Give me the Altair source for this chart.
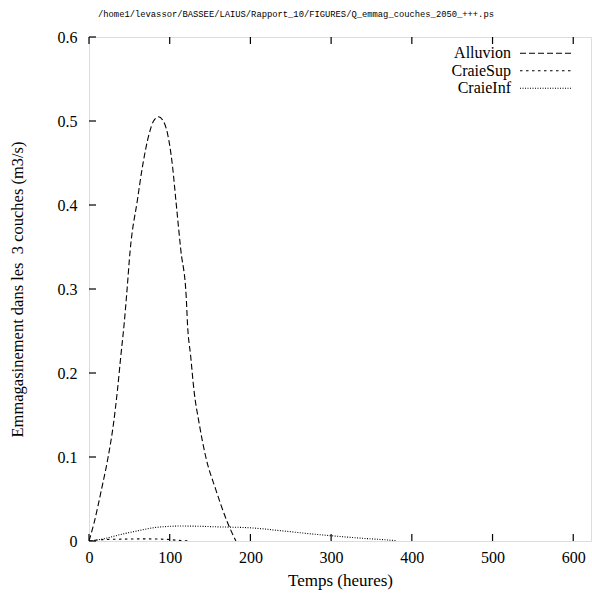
import altair as alt
import pandas as pd

# ---- data ----
alluvion_t = [0, 6.4, 15.5, 23.7, 30.4, 35.3, 39.4, 43.6, 46.8, 51, 60, 66.3, 74.6, 80, 86, 92, 97.3, 103.5,
              107.6, 113.8, 120.5, 122, 126, 130, 136.5, 144.7, 157, 171.6, 182]
alluvion_v = [0, 0.022, 0.0615, 0.1, 0.14, 0.18, 0.22, 0.259, 0.295, 0.346, 0.406, 0.446, 0.485, 0.500, 0.505,
              0.500, 0.485, 0.446, 0.406, 0.346, 0.29, 0.259, 0.22, 0.18, 0.14, 0.1, 0.0615, 0.022, 0]
craiesup_t = [0, 15, 40, 70, 95, 110, 125]
craiesup_v = [0, 0.0015, 0.0022, 0.0025, 0.002, 0.0008, 0]
craieinf_t = [0, 20, 39, 60, 81, 101, 113, 135, 160, 196, 215, 235, 255, 275, 300, 335, 366, 380]
craieinf_v = [0, 0.003, 0.0077, 0.012, 0.0159, 0.0175, 0.0178, 0.0176, 0.0168, 0.0159, 0.0145, 0.0125, 0.0105,
              0.0085, 0.0063, 0.0035, 0.0015, 0.0005]

series_names = ["Alluvion", "CraieSup", "CraieInf"]
series_dash = [[6, 3], [2.5, 3.5], [1, 1.5]]
x_ticks = [0, 100, 200, 300, 400, 500, 600]
y_ticks = [0, 0.1, 0.2, 0.3, 0.4, 0.5, 0.6]

title_text = "/home1/levassor/BASSEE/LAIUS/Rapport_10/FIGURES/Q_emmag_couches_2050_+++.ps"
x_title = "Temps (heures)"
y_title = "Emmagasinement dans les \u00a03 couches (m3/s)"

W, H = 502, 504
SERIF = "Liberation Serif"

rows = []
for name, ts, vs in [("Alluvion", alluvion_t, alluvion_v),
                     ("CraieSup", craiesup_t, craiesup_v),
                     ("CraieInf", craieinf_t, craieinf_v)]:
    for t, v in zip(ts, vs):
        rows.append({"serie": name, "t": t, "v": v})
df = pd.DataFrame(rows)

xscale = alt.Scale(domain=[0, 622], nice=False, zero=False)
yscale = alt.Scale(domain=[0, 0.6], nice=False)

lines = alt.Chart(df).mark_line(color="black", strokeWidth=1.1, clip=True, interpolate="monotone").encode(
    x=alt.X("t:Q", scale=xscale,
            axis=alt.Axis(values=x_ticks, format="d", ticks=False, domain=False, grid=False, labelFlush=False,
                          labelFont=SERIF, labelFontSize=16, labelColor="black", labelPadding=8,
                          title=x_title, titleFont=SERIF, titleFontSize=17, titleFontWeight="normal",
                          titleColor="black", titleX=W / 2, titleY=39, titleBaseline="middle")),
    y=alt.Y("v:Q", scale=yscale,
            axis=alt.Axis(values=y_ticks, format=".1~f", ticks=False, domain=False, grid=False, labelFlush=False,
                          labelFont=SERIF, labelFontSize=16, labelColor="black", labelPadding=12,
                          title=y_title, titleFont=SERIF, titleFontSize=16.5, titleFontWeight="normal",
                          titleColor="black", titleX=-72, titleY=H / 2, titleAngle=270,
                          titleBaseline="middle", titleAlign="center")),
    strokeDash=alt.StrokeDash("serie:N", scale=alt.Scale(domain=series_names, range=series_dash), legend=None),
    detail="serie:N",
)

xt = pd.DataFrame({"t": x_ticks})
yt = pd.DataFrame({"v": y_ticks})
tick_style = dict(color="black", strokeWidth=1.2)
xb = alt.Chart(xt).mark_rule(**tick_style).encode(x=alt.X("t:Q", scale=xscale), y=alt.value(H), y2=alt.value(H - 7))
xtop = alt.Chart(xt).mark_rule(**tick_style).encode(x=alt.X("t:Q", scale=xscale), y=alt.value(0), y2=alt.value(7))
yl = alt.Chart(yt).mark_rule(**tick_style).encode(y=alt.Y("v:Q", scale=yscale), x=alt.value(0), x2=alt.value(7))

legend_layers = []
legend_y = [16.3, 33.7, 51.3]
for name, dash, ly in zip(series_names, series_dash, legend_y):
    ldf = pd.DataFrame({"serie": [name]})
    legend_layers.append(
        alt.Chart(ldf).mark_text(align="right", baseline="middle", font=SERIF, fontSize=16, color="black").encode(
            text="serie:N", x=alt.value(422), y=alt.value(ly)))
    legend_layers.append(
        alt.Chart(ldf).mark_rule(color="black", strokeWidth=1.1, strokeDash=dash).encode(
            x=alt.value(431), x2=alt.value(482), y=alt.value(ly)))

chart = alt.layer(lines, xb, xtop, yl, *legend_layers).properties(
    width=W, height=H,
    title=alt.TitleParams(title_text, font="Liberation Mono", fontSize=8.8, fontWeight="normal",
                          color="black", anchor="middle", frame="group", dx=-44, offset=10),
    autosize=alt.AutoSizeParams(type="none"),
    padding={"left": 89, "top": 37, "right": 1, "bottom": 54},
).configure_view(stroke="black", strokeWidth=1.5).configure(background="white")

chart.save("out.html", embed_options={"renderer": "svg", "actions": False})
